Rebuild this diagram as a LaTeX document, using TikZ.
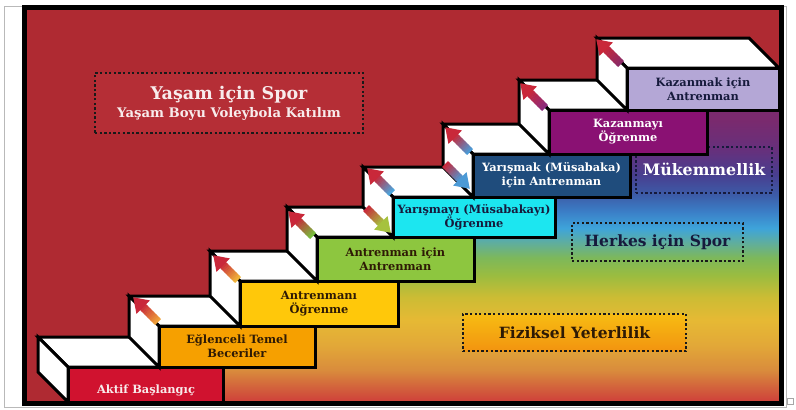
\documentclass[tikz,border=0pt]{standalone}
\usepackage{fontspec}
\newfontfamily\djs{DejaVu Serif}
\usetikzlibrary{calc}
\definecolor{bgred}{HTML}{AF2A32}
\definecolor{boxred}{HTML}{B52E36}
\definecolor{offwhite}{HTML}{F8ECEC}
\definecolor{s1c}{HTML}{D0122F}
\definecolor{s2c}{HTML}{F6A000}
\definecolor{s3c}{HTML}{FFC80A}
\definecolor{s4c}{HTML}{8DC63F}
\definecolor{s5c}{HTML}{1CE6F0}
\definecolor{s6c}{HTML}{1F4C7C}
\definecolor{s7c}{HTML}{8A1173}
\definecolor{s8c}{HTML}{B4A7D6}
\definecolor{darktxt}{HTML}{2E1A05}
\definecolor{navytxt}{HTML}{161A3C}
\definecolor{arrred}{HTML}{C9283A}
\definecolor{atorange}{HTML}{EFA23A}
\definecolor{atyellow}{HTML}{F0B53A}
\definecolor{atgreen}{HTML}{78BE3E}
\definecolor{atlblue}{HTML}{4BA6DE}
\definecolor{atygreen}{HTML}{A6C23E}
\definecolor{atblue}{HTML}{4C9AD6}
\definecolor{atpurple}{HTML}{8B2C7E}
\definecolor{atmagenta}{HTML}{8A2A66}
\definecolor{fiztop}{HTML}{F7BC12}
\definecolor{fizbot}{HTML}{F29410}
\definecolor{g01}{HTML}{CF3F3A}
\definecolor{g02}{HTML}{D2603C}
\definecolor{g03}{HTML}{D98C3C}
\definecolor{g04}{HTML}{E2A838}
\definecolor{g05}{HTML}{E6B934}
\definecolor{g06}{HTML}{CCBC34}
\definecolor{g07}{HTML}{9ABC40}
\definecolor{g08}{HTML}{7DB85A}
\definecolor{g09}{HTML}{60AE9C}
\definecolor{g10}{HTML}{3EA4DA}
\definecolor{g11}{HTML}{3B80C8}
\definecolor{g12}{HTML}{3C5CA8}
\definecolor{g13}{HTML}{483F90}
\definecolor{g14}{HTML}{66307C}
\definecolor{g15}{HTML}{7A2A6E}
\definecolor{g16}{HTML}{7C2A6C}
\pgfdeclareverticalshading{stairgrad}{100bp}{color(0bp)=(g01); color(25bp)=(g01); color(27.1bp)=(g02); color(29.8bp)=(g03); color(33.5bp)=(g04); color(37.3bp)=(g05); color(40.7bp)=(g06); color(44bp)=(g07); color(46.6bp)=(g08); color(48.8bp)=(g09); color(51bp)=(g10); color(53.4bp)=(g11); color(56bp)=(g12); color(59bp)=(g13); color(62.7bp)=(g14); color(67.2bp)=(g15); color(75bp)=(g16); color(100bp)=(g16)}
\tikzset{
  front/.style={draw=black, line width=3pt, inner sep=0pt, outer sep=0pt, align=center,
    font=\djs\bfseries\fontsize{11.4}{14}\selectfont},
  face/.style={fill=white, draw=black, line width=3pt},
  dotframe/.style={draw=#1, line width=2.3pt, dash pattern=on 2.3pt off 2.3pt, inner sep=0pt, outer sep=0pt},
  lbltxt/.style={inner sep=0pt, font=\djs\bfseries\fontsize{11.4}{14}\selectfont},
  bigtxt/.style={inner sep=0pt, font=\djs\bfseries\fontsize{#1}{#1}\selectfont},
}
\newcommand\stairbox[8]{%
  \node[front, fill=#6, text=#7, minimum width=#4pt, minimum height=#5pt] (#1) at (#2,#3) {#8};
  \filldraw[face] (#1.north west) -- ++(-30,-30) -- ($(#1.north east)+(-30,-30)$) -- (#1.north east) -- cycle;
  \filldraw[face] (#1.north west) -- ++(-30,-30) -- ($(#1.south west)+(-30,-30)$) -- (#1.south west) -- cycle;
}
\newcommand\fatarrow[4]{%
  \begin{scope}[shift={(#1)},rotate=#2]
    \foreach \k in {0,...,10}{%
      \pgfmathtruncatemacro\mixq{\k*10}%
      \fill[#4!\mixq!#3] ({\k*2.1},-4.2) rectangle ({\k*2.1+2.6},4.2);
    }
    \fill[#4] (21,-9.5) -- (35,0) -- (21,9.5) -- cycle;
  \end{scope}}
\begin{document}
\begin{tikzpicture}[x=1pt,y=-1pt]
\useasboundingbox (0,0) rectangle (796,410);
\fill[white] (0,0) rectangle (796,410);
\draw[gray!55, line width=0.6pt] (4,6.5) rectangle (786,407);
\draw[gray!70, line width=0.6pt] (787.5,398.5) rectangle (793,404.5);
\begin{scope}
\clip (27,10) rectangle (779,401);
\fill[bgred] (27,10) rectangle (779,401);
\shade[shading=stairgrad] (68,402) -- (68,367) -- (159,367) -- (159,326) -- (240,326) -- (240,281)
  -- (317,281) -- (317,237) -- (393,237) -- (393,197) -- (473,197) -- (473,154) -- (549,154)
  -- (549,110) -- (627,110) -- (627,68) -- (779,68) -- (779,402) -- cycle;
% dotted label boxes
\node[dotframe=black!90, fill=boxred, minimum width=268pt, minimum height=60pt] (yasambox) at (229,103) {};
\node[bigtxt=17.5, text=offwhite, anchor=base] (yasam1) at (229,99) {Yaşam için Spor};
\node[bigtxt=13.2, text=offwhite, anchor=base] (yasam2) at (229,117) {Yaşam Boyu Voleybola Katılım};
\node[dotframe=navytxt, minimum width=136pt, minimum height=46pt] (mukbox) at (704,170) {};
\node[bigtxt=15.8, text=white, anchor=base] (muk) at (704,175) {Mükemmellik};
\node[dotframe=black!90, minimum width=171pt, minimum height=38pt] (herkesbox) at (657.5,242) {};
\node[bigtxt=15.5, text=navytxt, anchor=base] (herkes) at (657.5,246.7) {Herkes için Spor};
\node[dotframe=black!90, top color=fiztop, bottom color=fizbot, minimum width=223pt, minimum height=37pt] (fizbox) at (574.5,332.5) {};
\node[bigtxt=15.5, text=darktxt, anchor=base] (fiz) at (574.5,338) {Fiziksel Yeterlilik};
% steps
\stairbox{s1}{145.5}{384.5}{155}{35}{s1c}{white}{}
\node[lbltxt, text=offwhite, anchor=base] (t1) at (146,393) {Aktif Başlangıç};
\stairbox{s2}{237}{346.5}{156}{41}{s2c}{darktxt}{Eğlenceli Temel\\Beceriler}
\stairbox{s3}{319}{303.5}{158}{45}{s3c}{darktxt}{Antrenmanı\\Öğrenme}
\stairbox{s4}{395.5}{259}{157}{44}{s4c}{darktxt}{Antrenman için\\Antrenman}
\stairbox{s5}{474}{217}{162}{40}{s5c}{navytxt}{Yarışmayı (Müsabakayı)\\Öğrenme}
\stairbox{s6}{551.5}{175.5}{157}{43}{s6c}{white}{Yarışmak (Müsabaka)\\için Antrenman}
\stairbox{s7}{628}{132}{158}{44}{s7c}{white}{Kazanmayı\\Öğrenme}
\stairbox{s8}{703}{89}{152}{42}{s8c}{navytxt}{Kazanmak için\\Antrenman}
% arrows
\fatarrow{158,322}{135}{atorange}{arrred}
\fatarrow{238,280}{135}{atyellow}{arrred}
\fatarrow{313,236}{135}{atgreen}{arrred}
\fatarrow{392,193}{135}{atlblue}{arrred}
\fatarrow{366,208}{-45}{arrred}{atygreen}
\fatarrow{470,152}{135}{atblue}{arrred}
\fatarrow{445,164}{-45}{arrred}{atblue}
\fatarrow{545,108}{135}{atpurple}{arrred}
\fatarrow{621,64}{135}{atmagenta}{arrred}
\end{scope}
\draw[line width=5pt] (24.5,7.5) rectangle (781.5,403.5);
\end{tikzpicture}
\end{document}
